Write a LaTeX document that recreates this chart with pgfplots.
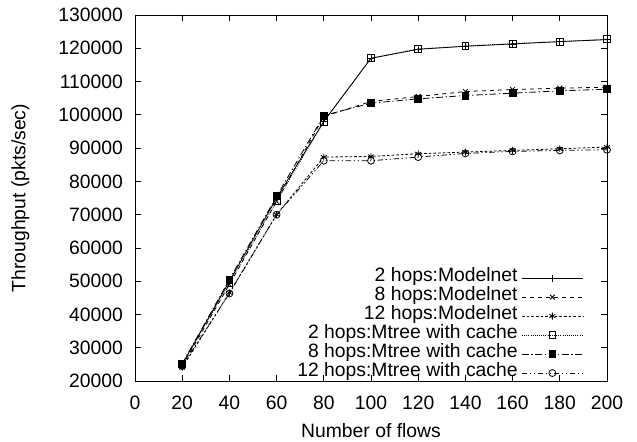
\documentclass[border=0pt]{standalone}
\usepackage{pgfplots}
\pgfplotsset{compat=1.18}
\usepackage{fontspec}
\setmainfont{Liberation Sans}
\begin{document}
\fontsize{14.5pt}{17pt}\selectfont
\begin{tikzpicture}
\useasboundingbox (-101.25pt,-45.75pt) rectangle (376.5pt,285.75pt);
\begin{axis}[
  at={(0,0)}, anchor=south west,
  scale only axis, width=354pt, height=274.5pt,
  xmin=0, xmax=200, ymin=20000, ymax=130000,
  xtick={0,20,...,200},
  ytick={20000,30000,...,130000},
  scaled y ticks=false,
  /pgf/number format/fixed,
  /pgf/number format/precision=0,
  /pgf/number format/assume math mode=true,
  /pgf/number format/set thousands separator={},
  tick label style={font=\fontsize{14.5pt}{17pt}\selectfont},
  label style={font=\fontsize{14.5pt}{17pt}\selectfont},
  major tick length=4.5pt,
  tick style={black, line width=0.6pt},
  axis line style={line width=0.6pt},
  xticklabel style={yshift=-6pt},
  yticklabel style={xshift=-4pt},
  xlabel={Number of flows},
  ylabel={Throughput (pkts/sec)},
  every axis x label/.style={at={(axis description cs:0.5,-0.135)}, anchor=center},
  every axis y label/.style={at={(axis description cs:-0.243,0.5)}, rotate=90, anchor=center},
  legend style={at={(rel axis cs:0.95,-0.005)}, anchor=south east, draw=none, fill=none,
    inner sep=0pt, row sep=0pt, column sep=3pt, font=\fontsize{14.5pt}{17pt}\selectfont,
    nodes={inner sep=0pt, text height=10pt, text depth=4.25pt}},
  legend cell align=right,
  legend plot pos=right,
  legend image code/.code={\draw[mark repeat=2,mark phase=2,#1] plot coordinates {(0cm,0cm) (0.8cm,0cm) (1.6cm,0cm)};},
  every axis plot/.append style={black, line width=0.6pt, mark size=2.6pt, mark options={solid}},
]
\addplot[mark=+] coordinates {(20,25000)(40,50000)(60,75000)(80,98000)(100,117000)(120,119700)(140,120600)(160,121300)(180,122000)(200,122600)};
\addlegendentry{2 hops:Modelnet}
\addplot[dashed, mark=x] coordinates {(20,24500)(40,49000)(60,74000)(80,99500)(100,104000)(120,105500)(140,107000)(160,107600)(180,108000)(200,108300)};
\addlegendentry{8 hops:Modelnet}
\addplot[dash pattern=on 2pt off 1.5pt, mark=asterisk] coordinates {(20,24000)(40,46500)(60,70000)(80,87300)(100,87500)(120,88300)(140,88800)(160,89300)(180,89800)(200,90300)};
\addlegendentry{12 hops:Modelnet}
\addplot[densely dotted, mark=square] coordinates {(20,25000)(40,49500)(60,74000)(80,98000)(100,117000)(120,119800)(140,120700)(160,121400)(180,122000)(200,122700)};
\addlegendentry{2 hops:Mtree with cache}
\addplot[dash pattern=on 5pt off 2pt on 1pt off 2pt, mark=square*] coordinates {(20,25200)(40,50500)(60,75500)(80,99800)(100,103500)(120,104800)(140,105800)(160,106500)(180,107200)(200,107700)};
\addlegendentry{8 hops:Mtree with cache}
\addplot[dash pattern=on 4pt off 2pt on 1pt off 2pt on 1pt off 2pt, mark=o] coordinates {(20,24500)(40,46300)(60,70000)(80,86200)(100,86200)(120,87300)(140,88400)(160,89000)(180,89300)(200,89500)};
\addlegendentry{12 hops:Mtree with cache}
\end{axis}
\end{tikzpicture}
\end{document}
